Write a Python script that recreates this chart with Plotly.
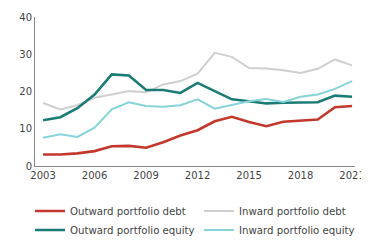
import plotly.graph_objects as go

years = list(range(2003, 2022))
outward_debt = [3.1, 3.1, 3.4, 4.0, 5.3, 5.4, 4.9, 6.4, 8.2, 9.6, 12.0, 13.2, 11.8, 10.7, 11.9, 12.3, 12.5, 15.8, 16.1]
inward_debt = [16.9, 15.2, 16.3, 18.3, 19.2, 20.1, 19.8, 21.9, 22.8, 24.8, 30.4, 29.3, 26.3, 26.2, 25.7, 25.0, 26.1, 28.6, 27.0]
outward_equity = [12.3, 13.1, 15.5, 19.2, 24.6, 24.3, 20.4, 20.4, 19.6, 22.3, 20.1, 17.9, 17.4, 16.8, 17.0, 17.0, 17.1, 18.9, 18.6]
inward_equity = [7.6, 8.5, 7.8, 10.3, 15.2, 17.1, 16.1, 15.9, 16.3, 17.9, 15.4, 16.5, 17.4, 18.0, 17.2, 18.6, 19.2, 20.7, 22.8]

series = [
    ("Outward portfolio debt", outward_debt, "#c4372c", 2.6),
    ("Inward portfolio debt", inward_debt, "#cfcfcf", 2.0),
    ("Outward portfolio equity", outward_equity, "#1b7b75", 2.6),
    ("Inward portfolio equity", inward_equity, "#86d3d9", 2.0),
]

fig = go.Figure()
for name, vals, color, w in series:
    fig.add_trace(go.Scatter(x=years, y=vals, mode="lines", name=name,
                             line=dict(color=color, width=w)))

fig.update_layout(
    width=361, height=232,
    margin=dict(l=27, r=14, t=9, b=74, autoexpand=False),
    paper_bgcolor="white", plot_bgcolor="white",
    font=dict(family="DejaVu Sans, sans-serif", size=10, color="#444444"),
    showlegend=True,
    legend=dict(orientation="h", x=-0.0156, y=-0.2047, xanchor="left", yanchor="top",
                entrywidth=124, entrywidthmode="pixels",
                font=dict(size=10.2, color="#444444"), tracegroupgap=0,
                itemwidth=30),
    xaxis=dict(range=[2002.53, 2021.17], tickvals=[2003, 2006, 2009, 2012, 2015, 2018, 2021],
               showgrid=False, zeroline=False, showline=True, linecolor="#888888",
               linewidth=1, ticks="", tickfont=dict(size=10)),
    yaxis=dict(range=[0, 40], tickvals=[0, 10, 20, 30, 40], showgrid=False,
               zeroline=False, showline=True, linecolor="#888888", linewidth=1,
               ticks="", tickfont=dict(size=10)),
)

fig.write_html("out.html")
